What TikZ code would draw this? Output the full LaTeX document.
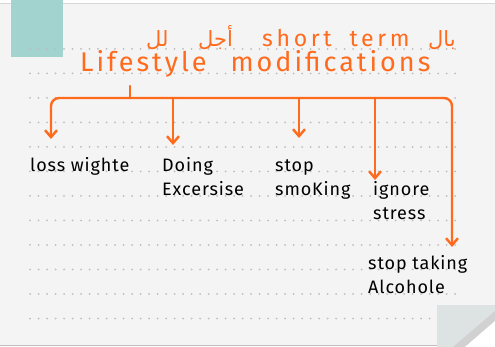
\documentclass[tikz,border=0pt]{standalone}
\usepackage{fontspec}
\setmainfont{Fira Sans}
\newfontfamily\hand[LetterSpace=5]{Fira Sans}
\newfontfamily\arabicfont[Script=Arabic]{DejaVu Sans}
\TeXXeTstate=1
\usetikzlibrary{arrows.meta,positioning,calc}
\definecolor{pen}{HTML}{FF6A1C}
\definecolor{paper}{HTML}{F4F4F4}
\definecolor{tab}{HTML}{A3D3CF}
\definecolor{rule}{HTML}{BDBDBD}
\definecolor{fold}{HTML}{DDE2E2}
\tikzstyle{title}=[text=pen,inner sep=0pt,anchor=base west]
\tikzstyle{arabic}=[title,font=\arabicfont\fontsize{21}{21}\selectfont]
\tikzstyle{item}=[inner sep=0pt,anchor=base west,align=left,font=\hand\fontsize{18}{24.5}\selectfont]
\tikzstyle{branch}=[draw=pen,line width=2.4pt,line cap=round,line join=round,-{Straight Barb[length=7pt,width=12pt]}]
\tikzstyle{dots}=[rule,line width=2pt,line cap=round,dash pattern=on 0pt off 8.5pt]

\begin{document}
\begin{tikzpicture}[x=1pt,y=-1pt]
\useasboundingbox (0,0) rectangle (495,347);
% paper sheet
\fill[white] (0,0) rectangle (495,347);
\fill[paper] (0,3) rectangle (495,345);
\draw[rule!60,line width=0.8pt] (0,3.4) -- (495,3.4);
\draw[rule,line width=1pt] (0,345.5) -- (495,345.5);
\fill[tab] (11,0) rectangle (63,57);
\foreach \i in {0,...,10}
  \draw[dots] (30,49+24.5*\i) -- (457,49+24.5*\i);
\draw[dots] (30,318.5) -- (433,318.5);
% folded corner
\fill[fold] (437,305) rectangle (495,347);
\fill[black!18] (453,347) -- (495,311) -- (495,321) -- (465,347) -- cycle;
\fill[white] (465,347) -- (495,321) -- (495,347) -- cycle;

% heading
\node[arabic] (arLl) at (146,47) {\beginR لل\endR};
\node[arabic] (arAjal) at (198,47) {\beginR أجل\endR};
\node[title,font=\hand\addfontfeature{LetterSpace=16}\fontsize{23}{23}\selectfont] (term) at (262,47) {short\hspace{8pt} term};
\node[arabic] (arBal) at (428,47) {\beginR بال\endR};
\node[title,font=\hand\addfontfeature{LetterSpace=11}\fontsize{27}{27}\selectfont] (root) at (80,72) {Lifestyle\hspace{14pt} modifications};

% items
\node[item] (loss) at (30,172) {loss wighte};
\node[item] (doing) at (162,196) {Doing\\Excersise};
\node[item] (smoke) at (275,196) {stop\\smoKing};
\node[item] (stress) at (373,220) {ignore\\stress};
\node[item] (alcohol) at (368,294) {stop taking\\Alcohole};

% connectors
\coordinate (tick) at (130,86);
\coordinate (bus) at (130,98);
\coordinate (tipLoss) at (51,139);
\coordinate (tipDoing) at (173,145);
\coordinate (tipSmoke) at (299,138);
\coordinate (tipStress) at (375,180);
\coordinate (tipAlcohol) at (452,247);
\draw[branch,-] (tick) -- (bus);
\draw[branch,rounded corners=8pt] (bus) -| (tipLoss);
\draw[branch] (bus) -| (tipDoing);
\draw[branch] (bus) -| (tipSmoke);
\draw[branch] (bus) -| (tipStress);
\draw[branch,rounded corners=8pt] (bus) -| (tipAlcohol);
\end{tikzpicture}
\end{document}
